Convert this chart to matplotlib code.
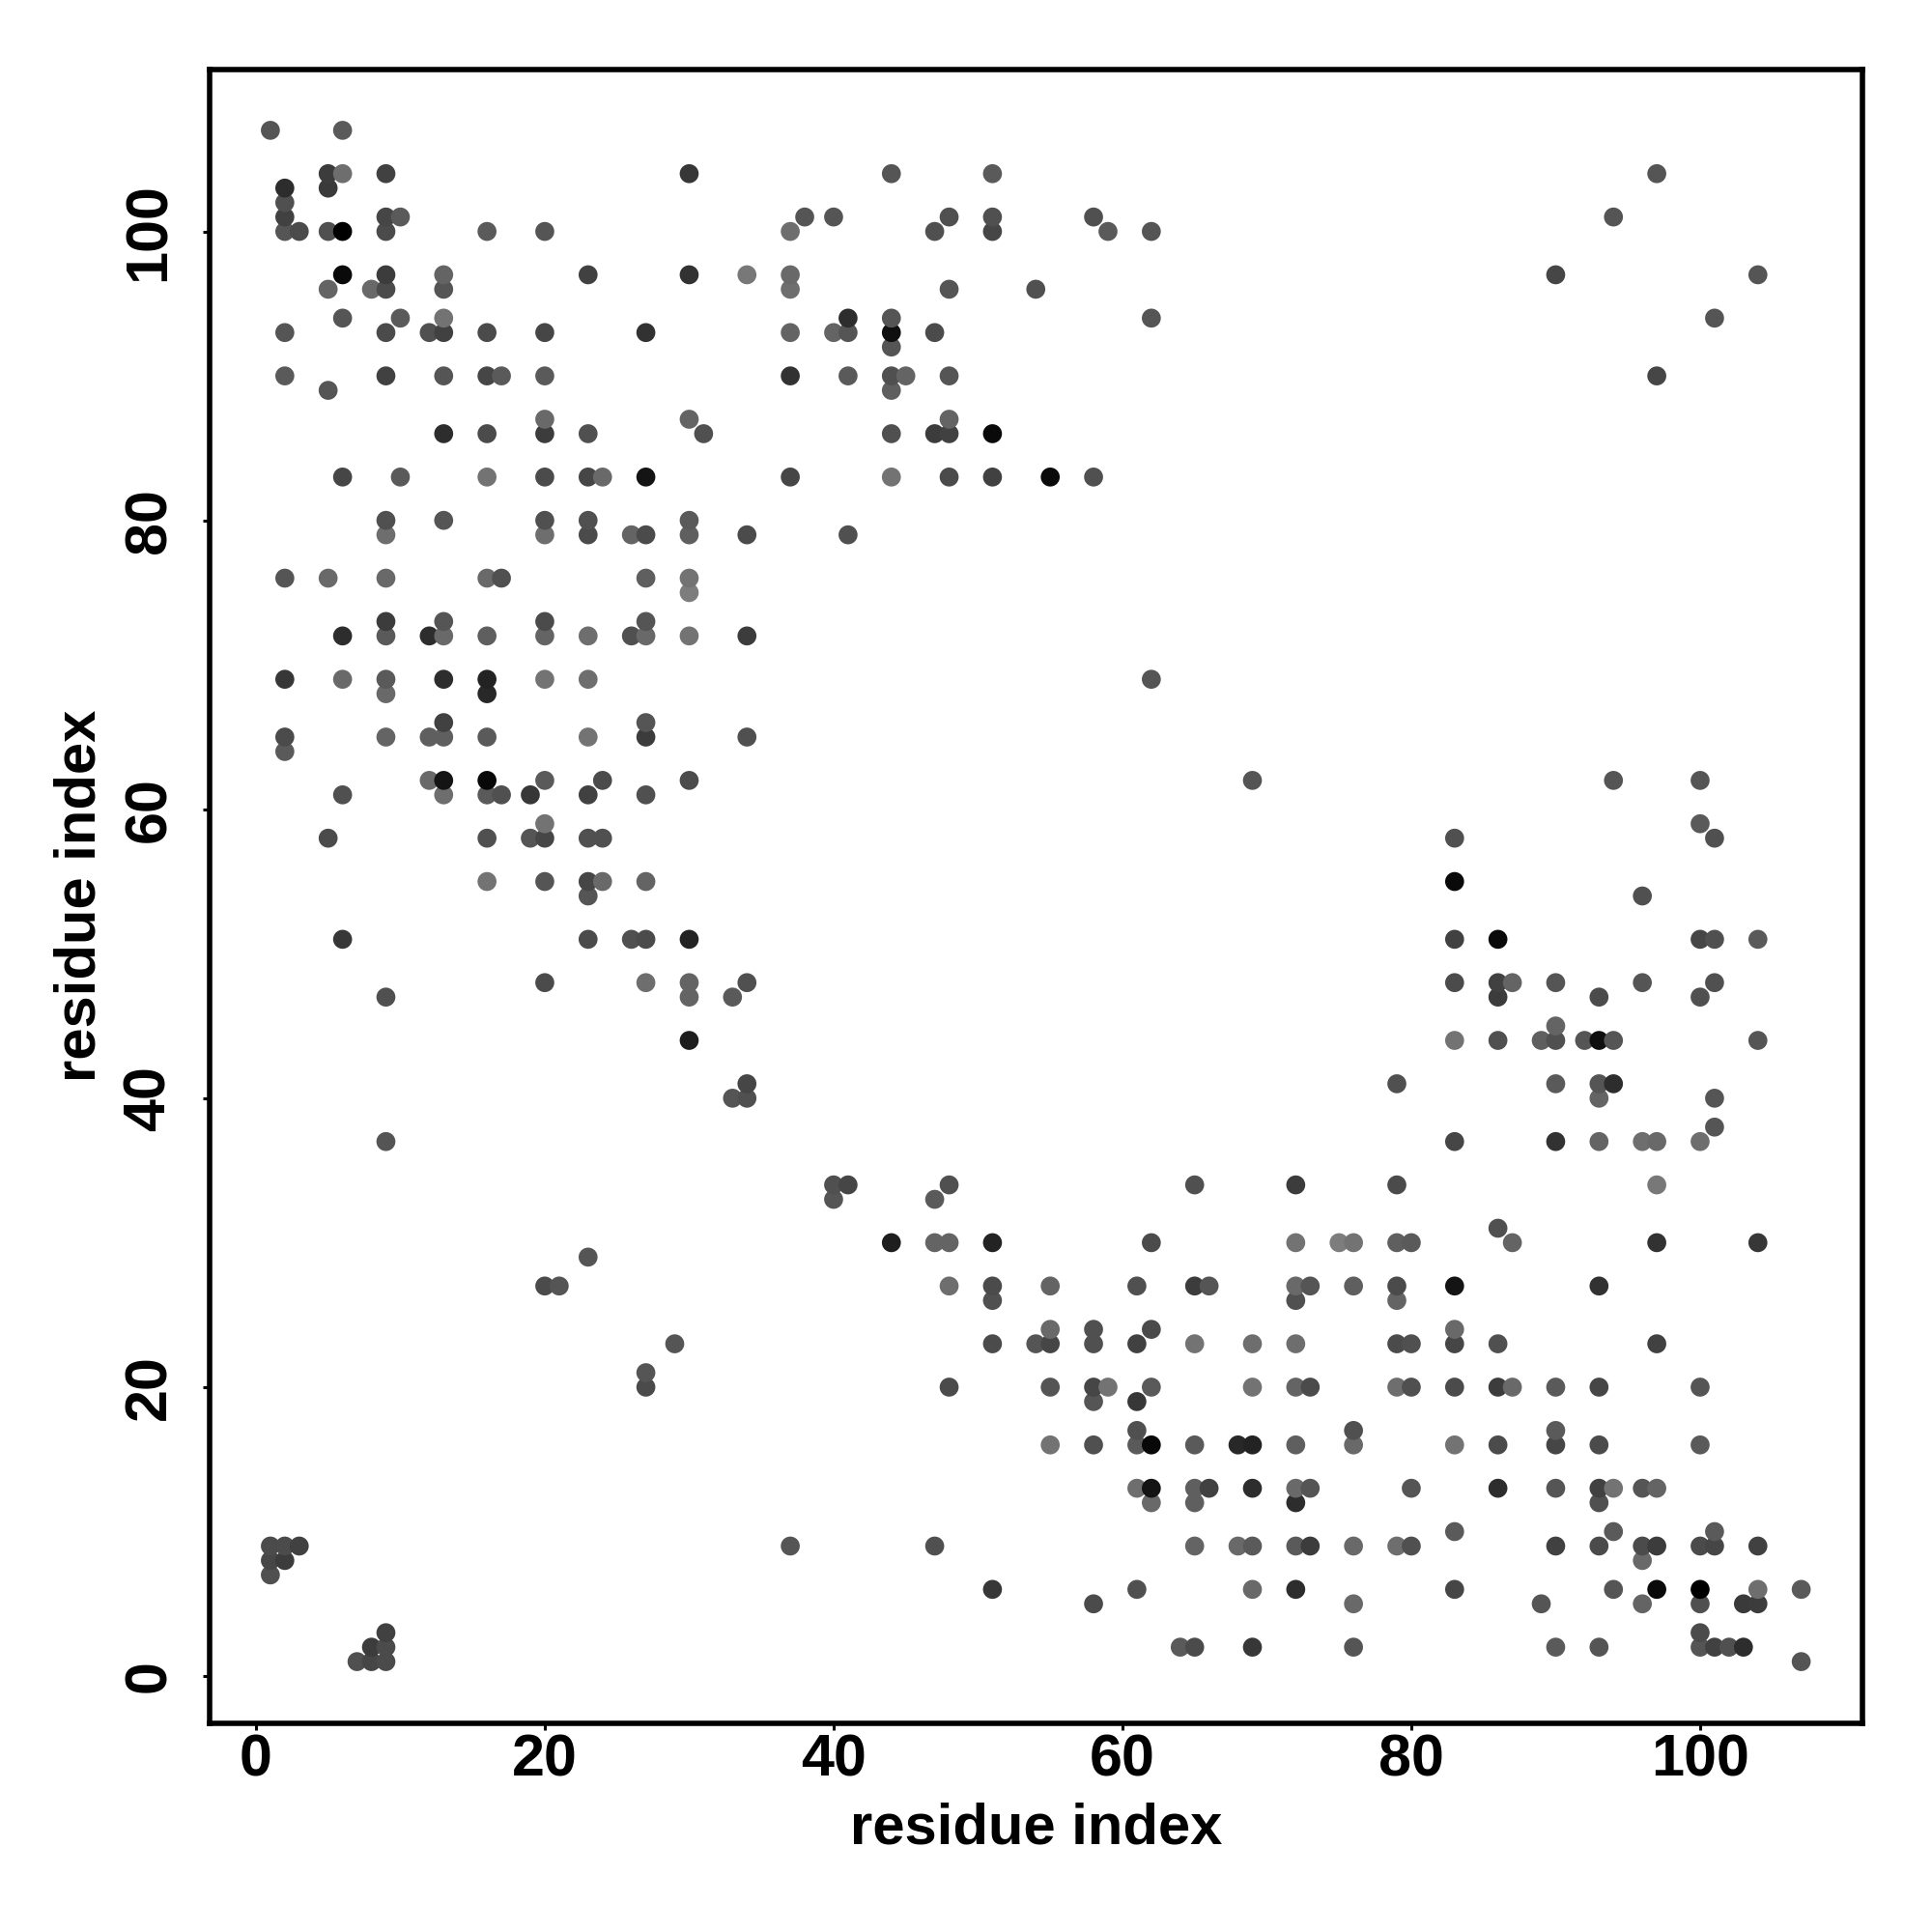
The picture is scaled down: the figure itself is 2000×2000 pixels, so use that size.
import numpy as np
import matplotlib
matplotlib.use("Agg")
import matplotlib.pyplot as plt

residue_a = [
    1, 1, 1, 1,
    2, 2, 2, 2, 2, 2, 2, 2, 2, 2, 2, 2,
    3, 3,
    5, 5, 5, 5, 5, 5, 5,
    6, 6, 6, 6, 6, 6, 6, 6, 6, 6,
    8,
    9, 9, 9, 9, 9, 9, 9, 9, 9, 9, 9, 9, 9, 9, 9, 9, 9,
    10, 10, 10,
    12, 12, 12, 12,
    13, 13, 13, 13, 13, 13, 13, 13, 13, 13, 13, 13, 13, 13,
    16, 16, 16, 16, 16, 16, 16, 16, 16, 16, 16, 16, 16, 16,
    17, 17, 17,
    19, 19,
    20, 20, 20, 20, 20, 20, 20, 20, 20, 20, 20, 20, 20, 20, 20, 20, 20,
    21,
    23, 23, 23, 23, 23, 23, 23, 23, 23, 23, 23, 23, 23, 23,
    24, 24, 24, 24,
    26, 26, 26,
    27, 27, 27, 27, 27, 27, 27, 27, 27, 27, 27, 27,
    30, 30, 30, 30, 30, 30, 30, 30, 30, 30, 30, 30, 30,
    31,
    33, 33,
    34, 34, 34, 34, 34, 34, 34,
    37, 37, 37, 37, 37, 37,
    38,
    40, 40,
    41, 41, 41, 41,
    44, 44, 44, 44, 44, 44, 44, 44,
    45,
    47, 47, 47,
    48, 48, 48, 48, 48, 48,
    51, 51, 51, 51, 51,
    54,
    55,
    58, 58,
    59,
    62, 62, 62,
    90, 94, 97,
]
residue_b = [
    7, 8, 9, 107,
    8, 9, 64, 65, 69, 76, 90, 93, 100, 101, 102, 103,
    9, 100,
    58, 76, 89, 96, 100, 103, 104,
    51, 61, 69, 72, 83, 94, 97, 100, 104, 107,
    96,
    37, 47, 65, 68, 69, 72, 73, 76, 79, 80, 90, 93, 96, 97, 100, 101, 104,
    83, 94, 101,
    62, 65, 72, 93,
    61, 62, 65, 66, 69, 72, 73, 80, 86, 90, 93, 94, 96, 97,
    55, 58, 61, 62, 65, 68, 69, 72, 76, 83, 86, 90, 93, 100,
    61, 76, 90,
    58, 61,
    27, 48, 55, 58, 59, 62, 69, 72, 73, 79, 80, 83, 86, 87, 90, 93, 100,
    27,
    29, 51, 54, 55, 58, 61, 65, 69, 72, 79, 80, 83, 86, 97,
    55, 58, 62, 83,
    51, 72, 79,
    48, 51, 55, 61, 65, 66, 72, 73, 76, 79, 83, 93,
    44, 47, 48, 51, 62, 72, 75, 76, 79, 80, 87, 97, 104,
    86,
    40, 47,
    40, 41, 48, 65, 72, 79, 97,
    83, 90, 93, 96, 97, 100,
    101,
    93, 101,
    79, 90, 93, 94,
    83, 86, 89, 90, 92, 93, 94, 104,
    90,
    86, 93, 100,
    83, 86, 87, 90, 96, 101,
    83, 86, 100, 101, 104,
    96,
    83,
    83, 101,
    100,
    69, 94, 100,
    97, 101, 104,
]
contact_gray = [
    80, 70, 75, 85,
    60, 75, 90, 75, 55, 85, 90, 85, 85, 65, 80, 45,
    65, 75,
    75, 105, 85, 100, 80, 58, 60,
    55, 80, 105, 45, 70, 85, 10, 0, 110, 90,
    105,
    85, 80, 100, 105, 90, 90, 60, 105, 110, 80, 65, 75, 75, 60, 75, 70, 65,
    90, 90, 90,
    105, 95, 45, 80,
    110, 20, 95, 65, 45, 105, 85, 85, 45, 85, 65, 115, 85, 100,
    115, 80, 90, 8, 90, 40, 35, 95, 105, 115, 75, 70, 75, 90,
    80, 80, 90,
    85, 55,
    75, 75, 85, 70, 115, 90, 115, 100, 75, 110, 80, 75, 60, 105, 90, 70, 85,
    85,
    85, 75, 85, 70, 80, 65, 115, 110, 110, 75, 80, 70, 80, 65,
    105, 80, 75, 105,
    80, 80, 100,
    110, 75, 100, 80, 60, 85, 105, 85, 95, 75, 20, 50,
    30, 100, 100, 35, 75, 115, 125, 115, 95, 90, 100, 50, 55,
    80,
    85, 90,
    80, 70, 80, 80, 60, 75, 120,
    70, 50, 100, 110, 105, 110,
    85,
    100, 85,
    80, 90, 85, 45,
    115, 80, 95, 80, 85, 15, 85, 85,
    100,
    60, 75, 80,
    75, 65, 100, 85, 85, 80,
    65, 10, 70, 80, 90,
    80,
    10,
    80, 80,
    90,
    85, 85, 85,
    70, 85, 85,
]

xy_ticks = [0, 20, 40, 60, 80, 100]
axis_label = "residue index"

assert len(residue_a) == len(residue_b) == len(contact_gray)

x = np.array(residue_a + residue_b)
y = np.array(residue_b + residue_a)
g = np.array(contact_gray + contact_gray)
order = np.lexsort((y, x))
colors = [(v / 255, v / 255, v / 255) for v in g[order]]

plt.rcParams['font.family'] = ['Liberation Sans', 'DejaVu Sans']
plt.rcParams['font.weight'] = 'bold'

fig = plt.figure(figsize=(10, 10), dpi=200)
ax = fig.add_axes([216.5 / 2000, 216.5 / 2000, 1711.5 / 2000, 1712 / 2000])
ax.scatter(x[order], y[order], s=50, c=colors, linewidths=0, clip_on=False)

ax.set_xlim(-3.24, 111.24)
ax.set_ylim(-3.24, 111.24)
ax.set_xticks(xy_ticks)
ax.set_yticks(xy_ticks)
ax.tick_params(axis='x', length=2.5, width=1.1, labelsize=22, pad=1.5)
ax.tick_params(axis='y', length=2.5, width=1.1, labelsize=22, pad=9.2)
for lab in ax.get_yticklabels():
    lab.set_rotation(90)
    lab.set_va('center')
for side in ax.spines.values():
    side.set_linewidth(2.0)

ax.set_xlabel(axis_label, fontsize=21.5, fontweight='bold', labelpad=5)
ax.set_ylabel(axis_label, fontsize=21.5, fontweight='bold', labelpad=5.8)

fig.savefig('out.png', dpi=200)
